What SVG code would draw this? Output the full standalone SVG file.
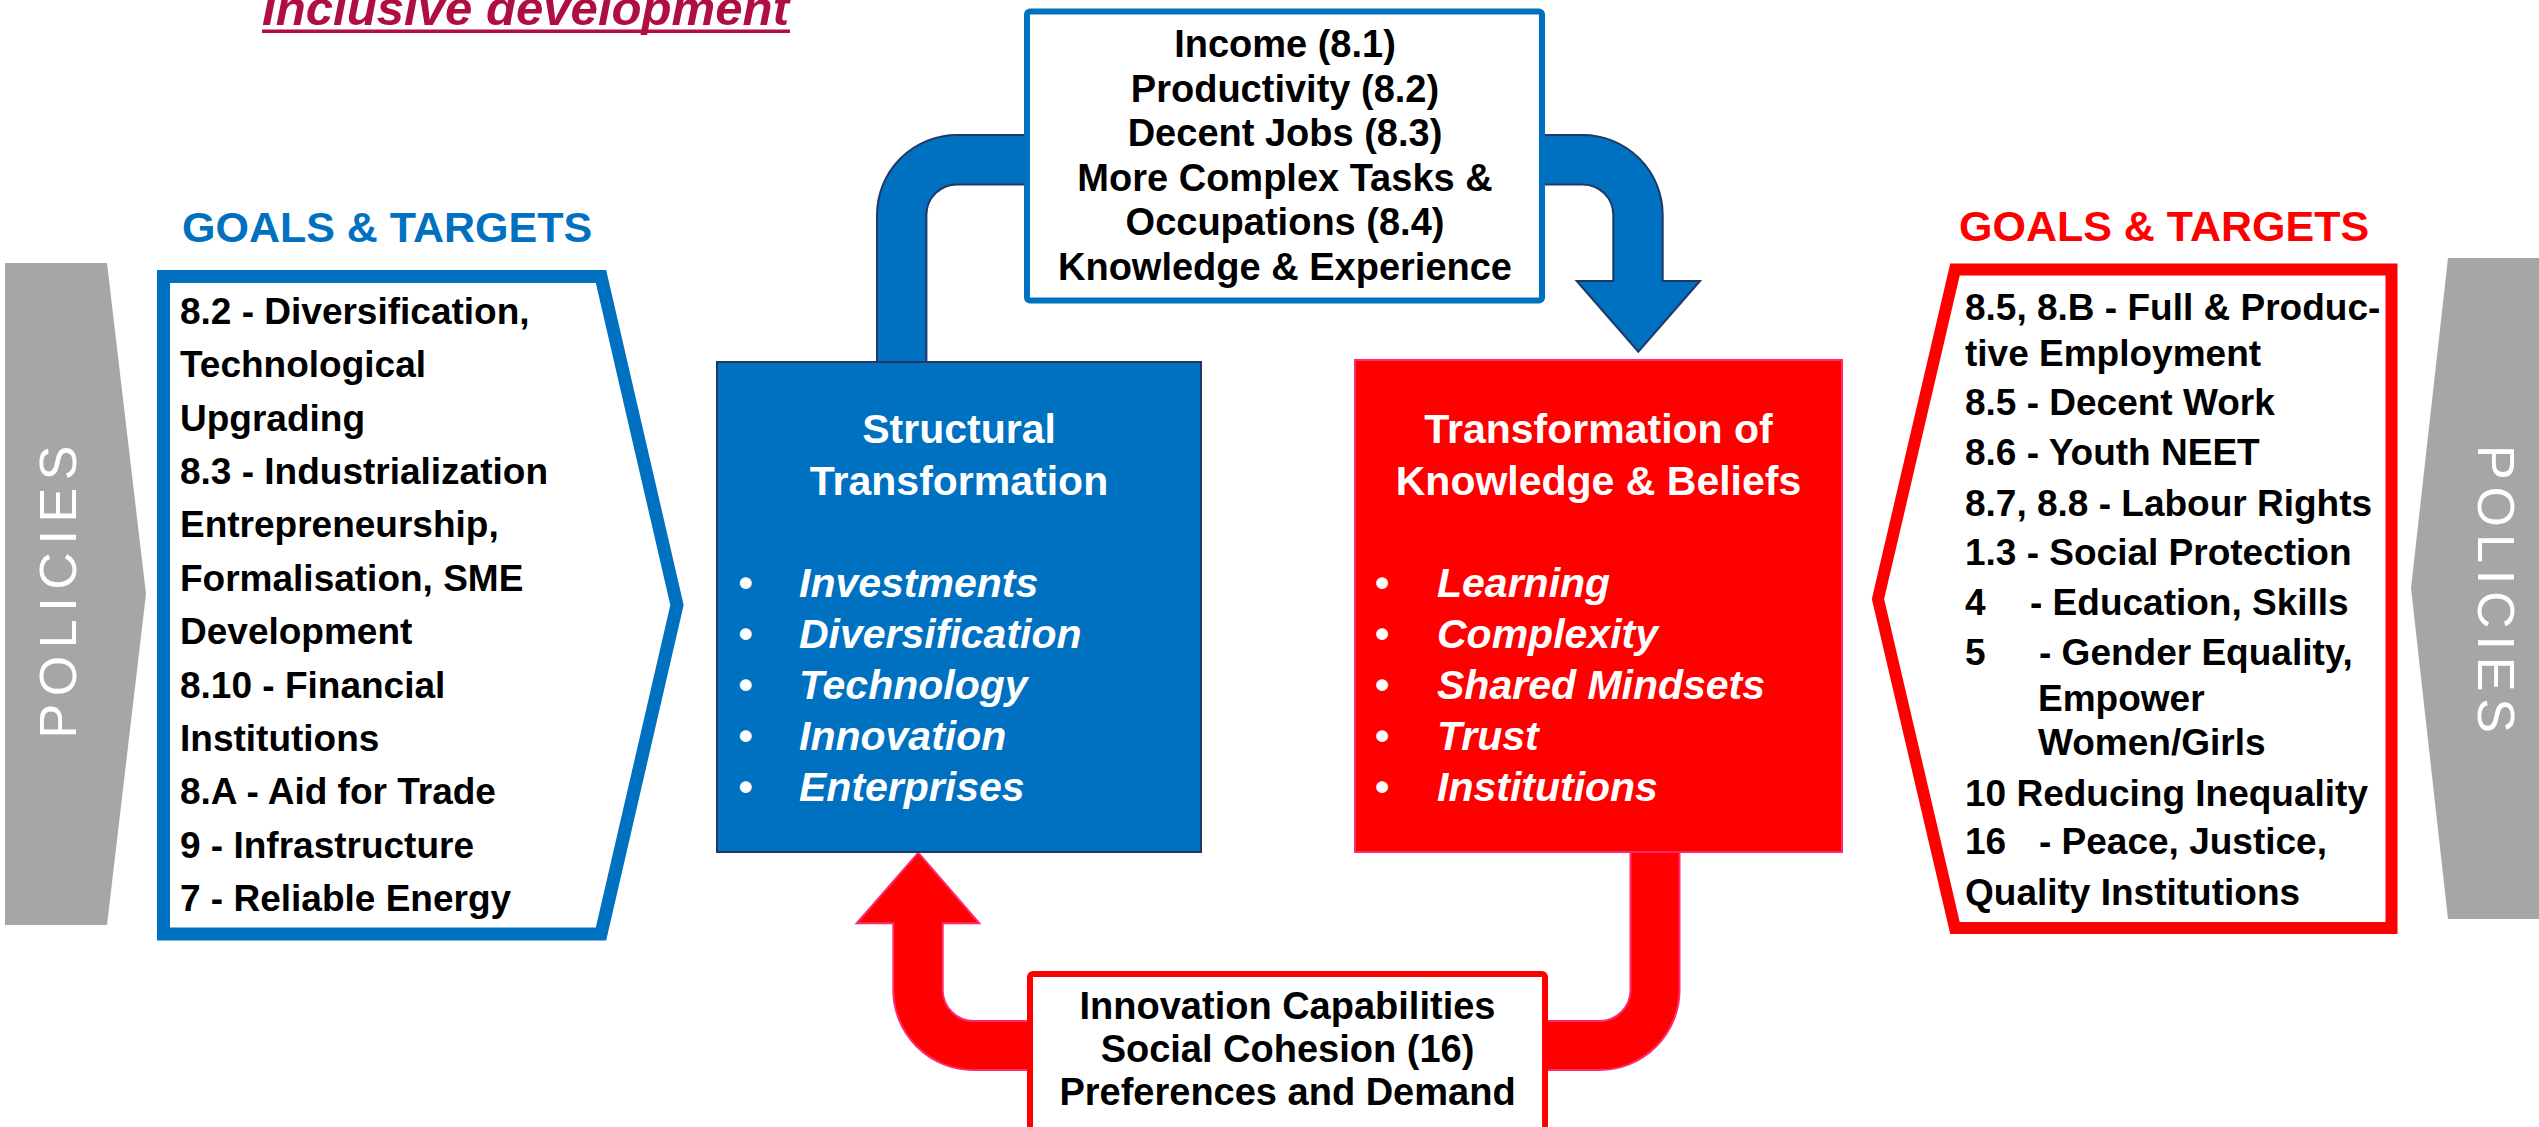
<svg xmlns="http://www.w3.org/2000/svg" width="2539" height="1127" viewBox="0 0 2539 1127">
  <style>
    text { font-family: "Liberation Sans", Arial, sans-serif; font-weight: bold; }
    .title { font-size: 48px; font-style: italic; fill: #AF0E40; }
    .goals { font-size: 43px; }
    .side-l { font-size: 37px; fill: #000; }
    .side-r { font-size: 37px; fill: #000; }
    .mid { font-size: 38px; fill: #000; text-anchor: middle; }
    .head { font-size: 41px; fill: #fff; text-anchor: middle; }
    .item { font-size: 41px; fill: #fff; font-style: italic; }
    .bullet { font-size: 41px; fill: #fff; }
    .pol { font-size: 52px; font-weight: normal; fill: #fff; text-anchor: middle; }
    .gray { fill: #A6A6A6; }
    .arm-blue { fill: #0070C0; stroke: #203864; stroke-width: 2; stroke-linejoin: miter; }
    .arm-red { fill: #FF0000; stroke: #FF2A6D; stroke-width: 2; stroke-linejoin: miter; }
  </style>

  <!-- heading, partly above the top edge -->
  <g id="title">
    <text class="title" x="262" y="25" textLength="527" lengthAdjust="spacingAndGlyphs">Inclusive development</text>
    <rect x="262" y="29.5" width="528" height="3.5" fill="#AF0E40"/>
  </g>

  <!-- cycle arrows: outcomes loop on top, feedback loop below -->
  <g id="connectors">
    <path class="arm-blue" d="M877,362 L877,215 A80,80 0 0 1 957,135 L1582.7,135 A80,80 0 0 1 1662.7,215 L1662.7,281 L1700,281 L1638.3,351.7 L1576.7,281 L1613.3,281 L1613.3,215 A30.6,30.6 0 0 0 1582.7,184.4 L957,184.4 A30.6,30.6 0 0 0 926.4,215 L926.4,362 Z"/>
    <path class="arm-red" d="M1630.5,852 L1630.5,990 A31,31 0 0 1 1599.5,1021 L973.7,1021 A31,31 0 0 1 942.7,990 L942.7,923.3 L979.3,923.3 L918.3,852.7 L856.7,923.3 L893.3,923.3 L893.3,990 A80,80 0 0 0 973.3,1070 L1599.5,1070 A80,80 0 0 0 1679.5,990 L1679.5,852 Z"/>
  </g>

  <!-- left policies banner -->
  <g id="policies-left">
    <polygon class="gray" points="5,263 107,263 146,594 107,925 5,925"/>
    <text class="pol" transform="translate(76,592) rotate(-90)" textLength="293" lengthAdjust="spacing">POLICIES</text>
  </g>

  <!-- left goals and targets -->
  <g id="goals-left">
    <text class="goals" x="182" y="242" fill="#0070C0">GOALS &amp; TARGETS</text>
    <polygon points="163.5,276.5 601,276.5 677,605 601,934 163.5,934" fill="#fff" stroke="#0070C0" stroke-width="13"/>
    <text class="side-l" x="180" y="323.7">8.2 - Diversification,</text>
    <text class="side-l" x="180" y="377.1">Technological</text>
    <text class="side-l" x="180" y="430.5">Upgrading</text>
    <text class="side-l" x="180" y="483.9">8.3 - Industrialization</text>
    <text class="side-l" x="180" y="537.3">Entrepreneurship,</text>
    <text class="side-l" x="180" y="590.7">Formalisation, SME</text>
    <text class="side-l" x="180" y="644.1">Development</text>
    <text class="side-l" x="180" y="697.5">8.10 - Financial</text>
    <text class="side-l" x="180" y="750.9">Institutions</text>
    <text class="side-l" x="180" y="804.3">8.A - Aid for Trade</text>
    <text class="side-l" x="180" y="857.7">9 - Infrastructure</text>
    <text class="side-l" x="180" y="911.1">7 - Reliable Energy</text>
  </g>

  <!-- outcomes box on the top arrow -->
  <g id="outcomes-top">
    <rect x="1027" y="11.5" width="515" height="289" rx="3" fill="#fff" stroke="#0070C0" stroke-width="6"/>
    <text class="mid" x="1285" y="57">Income (8.1)</text>
    <text class="mid" x="1285" y="101.6">Productivity (8.2)</text>
    <text class="mid" x="1285" y="146.2">Decent Jobs (8.3)</text>
    <text class="mid" x="1285" y="190.8">More Complex Tasks &amp;</text>
    <text class="mid" x="1285" y="235.4">Occupations (8.4)</text>
    <text class="mid" x="1285" y="280">Knowledge &amp; Experience</text>
  </g>

  <!-- structural transformation -->
  <g id="structural">
    <rect x="717" y="362" width="484" height="490" fill="#0070C0" stroke="#203864" stroke-width="2"/>
    <text class="head" x="959" y="443">Structural</text>
    <text class="head" x="959" y="495">Transformation</text>
    <text class="bullet" x="738.5" y="596.5">•</text>
    <text class="bullet" x="738.5" y="647.5">•</text>
    <text class="bullet" x="738.5" y="699">•</text>
    <text class="bullet" x="738.5" y="749.8">•</text>
    <text class="bullet" x="738.5" y="801">•</text>
    <text class="item" x="799" y="596.5">Investments</text>
    <text class="item" x="799" y="647.5">Diversification</text>
    <text class="item" x="799" y="699">Technology</text>
    <text class="item" x="799" y="749.8">Innovation</text>
    <text class="item" x="799" y="801">Enterprises</text>
  </g>

  <!-- transformation of knowledge and beliefs -->
  <g id="knowledge">
    <rect x="1355" y="360" width="487" height="492" fill="#FF0000" stroke="#FF2A6D" stroke-width="2"/>
    <text class="head" x="1598.5" y="443">Transformation of</text>
    <text class="head" x="1598.5" y="495">Knowledge &amp; Beliefs</text>
    <text class="bullet" x="1375" y="596.5">•</text>
    <text class="bullet" x="1375" y="647.5">•</text>
    <text class="bullet" x="1375" y="699">•</text>
    <text class="bullet" x="1375" y="749.8">•</text>
    <text class="bullet" x="1375" y="801">•</text>
    <text class="item" x="1437" y="596.5">Learning</text>
    <text class="item" x="1437" y="647.5">Complexity</text>
    <text class="item" x="1437" y="699">Shared Mindsets</text>
    <text class="item" x="1437" y="749.8">Trust</text>
    <text class="item" x="1437" y="801">Institutions</text>
  </g>

  <!-- feedback box on the bottom arrow -->
  <g id="feedback-bottom">
    <rect x="1030" y="974" width="515" height="200" rx="3" fill="#fff" stroke="#FF0000" stroke-width="6"/>
    <text class="mid" x="1287.5" y="1019">Innovation Capabilities</text>
    <text class="mid" x="1287.5" y="1062">Social Cohesion (16)</text>
    <text class="mid" x="1287.5" y="1105">Preferences and Demand</text>
  </g>

  <!-- right goals and targets -->
  <g id="goals-right">
    <text class="goals" x="1959" y="241" fill="#FF0000">GOALS &amp; TARGETS</text>
    <polygon points="1955,269.5 2391.5,269.5 2391.5,928 1955,928 1878,599" fill="#fff" stroke="#FF0000" stroke-width="12"/>
    <text class="side-r" x="1965" y="320">8.5, 8.B - Full &amp; Produc-</text>
    <text class="side-r" x="1965" y="366">tive Employment</text>
    <text class="side-r" x="1965" y="415">8.5 - Decent Work</text>
    <text class="side-r" x="1965" y="465">8.6 - Youth NEET</text>
    <text class="side-r" x="1965" y="515.5">8.7, 8.8 - Labour Rights</text>
    <text class="side-r" x="1965" y="564.5">1.3 - Social Protection</text>
    <text class="side-r" x="1965" y="614.7">4</text>
    <text class="side-r" x="2030" y="614.7">- Education, Skills</text>
    <text class="side-r" x="1965" y="665">5</text>
    <text class="side-r" x="2039" y="665">- Gender Equality,</text>
    <text class="side-r" x="2038" y="710.5">Empower</text>
    <text class="side-r" x="2038" y="754.7">Women/Girls</text>
    <text class="side-r" x="1965" y="806">10 Reducing Inequality</text>
    <text class="side-r" x="1965" y="854">16</text>
    <text class="side-r" x="2039" y="854">- Peace, Justice,</text>
    <text class="side-r" x="1965" y="904.5">Quality Institutions</text>
  </g>

  <!-- right policies banner -->
  <g id="policies-right">
    <polygon class="gray" points="2539,258 2448,258 2411,588 2448,919 2539,919"/>
    <text class="pol" transform="translate(2478,589) rotate(90)" textLength="288" lengthAdjust="spacing">POLICIES</text>
  </g>
</svg>
